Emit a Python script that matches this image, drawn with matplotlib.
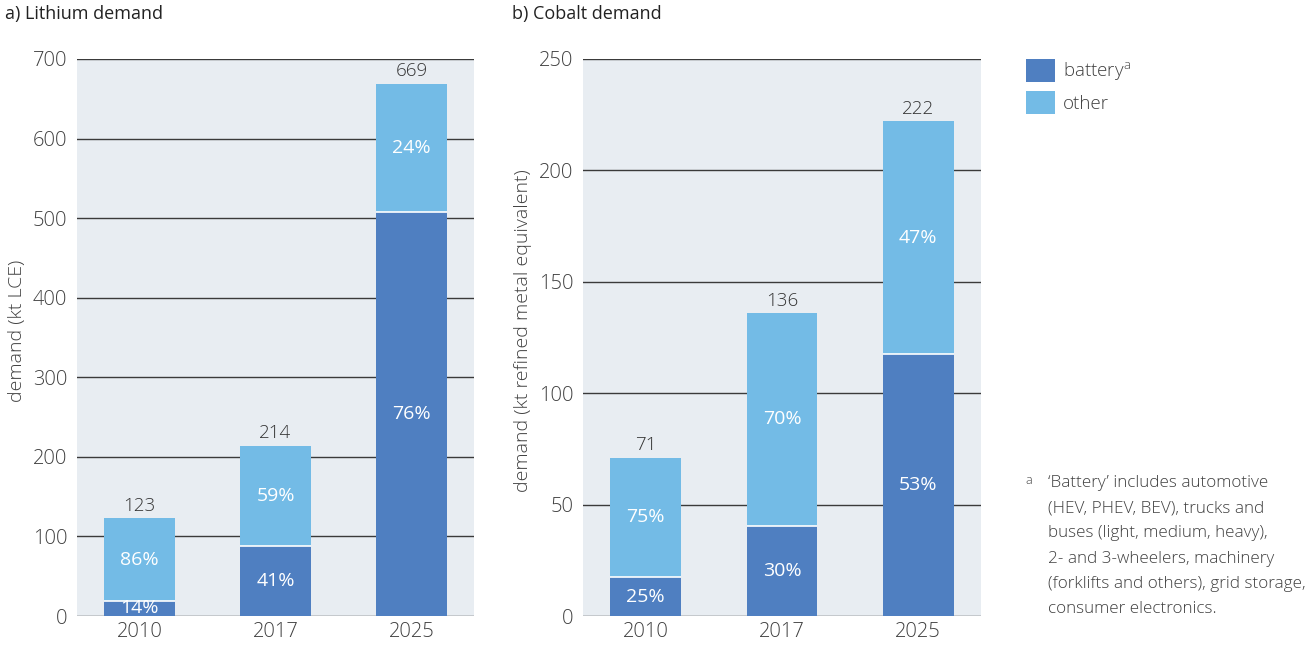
import matplotlib
matplotlib.use("Agg")
import matplotlib.pyplot as plt
from matplotlib.patches import Patch
import numpy as np

plt.rcParams['font.family'] = ['Open Sans', 'DejaVu Sans']
plt.rcParams['font.weight'] = 'light'
plt.rcParams['mathtext.fontset'] = 'custom'
plt.rcParams['mathtext.rm'] = 'Open Sans:light'

years = ["2010", "2017", "2025"]
li_battery = [19, 87.7, 508]
li_total = [123, 214, 669]
li_pct_battery = ["14%", "41%", "76%"]
li_pct_other = ["86%", "59%", "24%"]
co_battery = [17.5, 40.5, 117.5]
co_total = [71, 136, 222]
co_pct_battery = ["25%", "30%", "53%"]
co_pct_other = ["75%", "70%", "47%"]

C_BAT = "#4F7FC1"
C_OTH = "#73BBE6"
BG = "#E8EDF2"
TXT = "#404040"
GRID = "#3A3A3A"

W, H = 1313, 646
fig = plt.figure(figsize=(W / 100, H / 100), dpi=100)


def panel(rect, battery, total, pb, po, ymax, step, ylabel, ylab_x):
    ax = fig.add_axes(rect)
    ax.set_facecolor(BG)
    x = np.arange(len(years))
    width = 0.52
    other = [t - b for t, b in zip(total, battery)]
    ax.bar(x, battery, width, color=C_BAT, zorder=3)
    ax.bar(x, other, width, bottom=battery, color=C_OTH, zorder=3)
    ax.hlines(battery, x - width / 2, x + width / 2, colors="white", linewidth=1.2, zorder=4)
    for i in range(len(x)):
        ax.text(x[i], battery[i] / 2, pb[i], ha="center", va="center", color="white",
                fontsize=14, fontweight="normal", zorder=5)
        ax.text(x[i], battery[i] + other[i] / 2, po[i], ha="center", va="center", color="white",
                fontsize=14, fontweight="normal", zorder=5)
        ax.text(x[i], total[i] + ymax * 0.006, str(total[i]), ha="center", va="bottom", color="#333333",
                fontsize=13.5, zorder=5)
    ax.set_xlim(-0.46, 2.46)
    ax.set_ylim(0, ymax)
    ax.set_yticks(np.arange(0, ymax + 1, step))
    ax.set_xticks(x)
    ax.set_xticklabels(years)
    ax.yaxis.grid(True, color=GRID, linewidth=1.0, zorder=1)
    ax.set_axisbelow(True)
    for s in ax.spines.values():
        s.set_visible(False)
    ax.tick_params(axis="both", length=0, labelsize=14.5, colors=TXT, pad=7)
    ax.tick_params(axis="x", pad=4)
    fig.text(ylab_x / W, rect[1] + rect[3] / 2 + 0.01, ylabel, rotation=90, ha="center", va="center",
             fontsize=14, color=TXT)
    return ax


panel([77 / W, 30 / H, 397 / W, 557 / H], li_battery, li_total, li_pct_battery, li_pct_other,
      700, 100, "demand (kt LCE)", 17)
panel([583 / W, 30 / H, 398 / W, 557 / H], co_battery, co_total, co_pct_battery, co_pct_other,
      250, 50, "demand (kt refined metal equivalent)", 523)

fig.text(5 / W, 1 - 14 / H, "a) Lithium demand", ha="left", va="center", fontsize=13,
         color="#222222", fontweight="normal")
fig.text(512 / W, 1 - 14 / H, "b) Cobalt demand", ha="left", va="center", fontsize=13,
         color="#222222", fontweight="normal")

handles = [Patch(facecolor=C_BAT, label=r"battery$^{\mathregular{a}}$"),
           Patch(facecolor=C_OTH, label="other")]
leg = fig.legend(handles=handles, loc="upper left", bbox_to_anchor=(1026 / W, 1 - 59 / H),
                 frameon=False, fontsize=13.5, handlelength=1.55, handleheight=1.55,
                 handletextpad=0.4, labelspacing=0.42, borderaxespad=0, borderpad=0)
for t in leg.get_texts():
    t.set_color(TXT)

fig.text(1025 / W, 1 - 480 / H, "a", ha="left", va="center", fontsize=9, color=TXT)
note_lines = ["\u2018Battery\u2019 includes automotive", "(HEV, PHEV, BEV), trucks and",
              "buses (light, medium, heavy),", "2- and 3-wheelers, machinery",
              "(forklifts and others), grid storage,", "consumer electronics."]
for k, line in enumerate(note_lines):
    fig.text(1048 / W, 1 - (483 + 25.2 * k) / H, line, ha="left", va="center",
             fontsize=12.3, color=TXT)

fig.savefig("out.png", dpi=100)
